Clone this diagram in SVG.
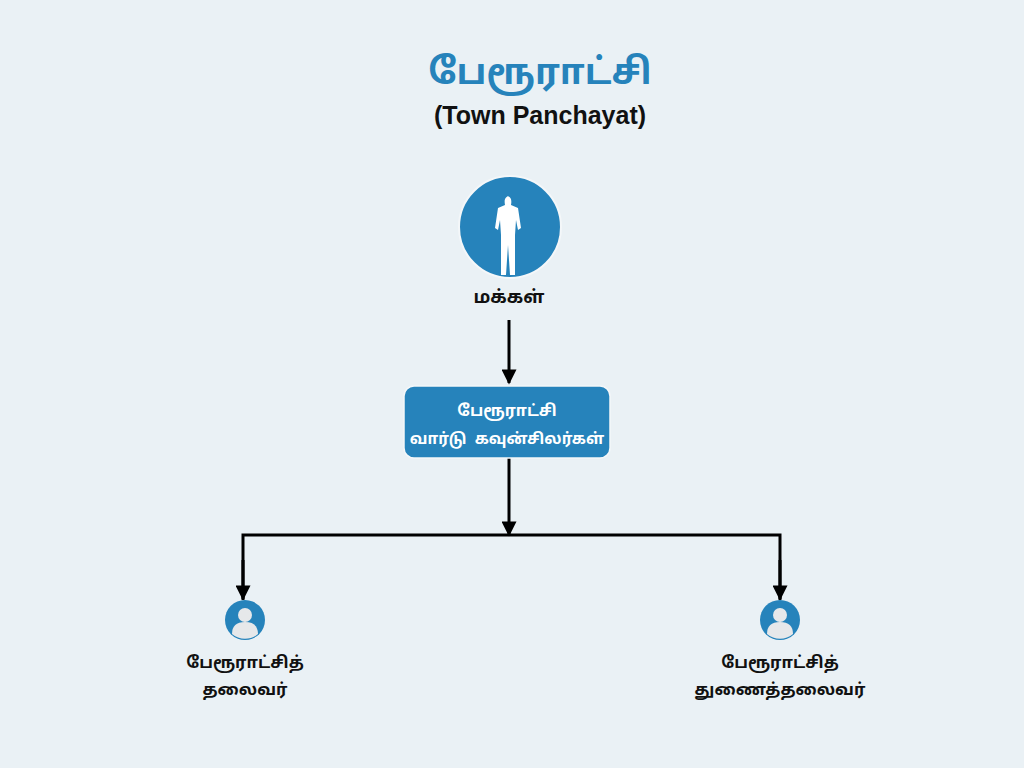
<svg xmlns="http://www.w3.org/2000/svg" width="1024" height="768" viewBox="0 0 1024 768">
<defs>
<style>
.t{font-family:"Noto Sans Tamil","Noto Sans","DejaVu Sans","Liberation Sans",sans-serif;font-weight:bold;text-anchor:middle;fill:#111}
.w{fill:#fff}
.c{stroke:#000;stroke-width:3;fill:none}
</style>
<marker id="a" viewBox="0 0 10 10" refX="9" refY="5" markerWidth="6" markerHeight="5" orient="auto" markerUnits="strokeWidth"><path d="M0,0L10,5L0,10z" fill="#000"/></marker>
<g id="p"><circle r="20" fill="#2683bb"/><circle cy="-5" r="7" fill="#e6e8ea"/><path d="M-13,14 Q-13,2 0,2 Q13,2 13,14 A20,20 0 0 1 -13,14z" fill="#e6e8ea"/></g>
</defs>
<rect width="1024" height="768" fill="#eaf1f5"/>
<g id="title">
<text x="540" y="84" class="t" font-size="36" style="fill:#2683bb">பேரூராட்சி</text>
<text x="540" y="124" class="t" font-size="25" style="font-family:'Liberation Sans',Arial,sans-serif">(Town Panchayat)</text>
</g>
<g id="connectors">
<line x1="509" y1="320" x2="509" y2="383" class="c" marker-end="url(#a)"/>
<line x1="509" y1="458" x2="509" y2="535" class="c" marker-end="url(#a)"/>
<polyline points="243,600 243,535 780,535 780,600" class="c"/>
<line x1="243" y1="560" x2="243" y2="599" class="c" marker-end="url(#a)"/>
<line x1="780" y1="560" x2="780" y2="599" class="c" marker-end="url(#a)"/>
</g>
<g id="people">
<circle cx="510" cy="227" r="51" fill="#2683bb" stroke="#f4f7f9" stroke-width="2"/>
<path fill="#fff" d="M510,196 c-5,0 -6,4 -5,9 l-7,3 l-3,20 l3,2 l2,-10 l1,15 l0,40 l5,0 l2,-30 l2,30 l5,0 l0,-40 l1,-15 l2,10 l3,-2 l-3,-20 l-7,-3 c1,-5 0,-9 -5,-9z"/>
<text x="509" y="303" class="t" font-size="18">மக்கள்</text>
</g>
<g id="council">
<rect x="404" y="386" width="206" height="72" rx="10" fill="#2683bb" stroke="#f4f7f9" stroke-width="1.5"/>
<text x="507" y="416" class="t w" font-size="16" style="fill:#fff">பேரூராட்சி</text>
<text x="507" y="444" class="t w" font-size="15.5" style="fill:#fff;white-space:pre">வார்டு  கவுன்சிலர்கள்</text>
</g>
<g id="chair">
<use href="#p" x="245" y="620"/>
<text x="245" y="668" class="t" font-size="16.5">பேரூராட்சித்</text>
<text x="245" y="695" class="t" font-size="16.5">தலைவர்</text>
</g>
<g id="vicechair">
<use href="#p" x="780" y="620"/>
<text x="780" y="668" class="t" font-size="16.5">பேரூராட்சித்</text>
<text x="780" y="695" class="t" font-size="16.5">துணைத்தலைவர்</text>
</g>
</svg>
